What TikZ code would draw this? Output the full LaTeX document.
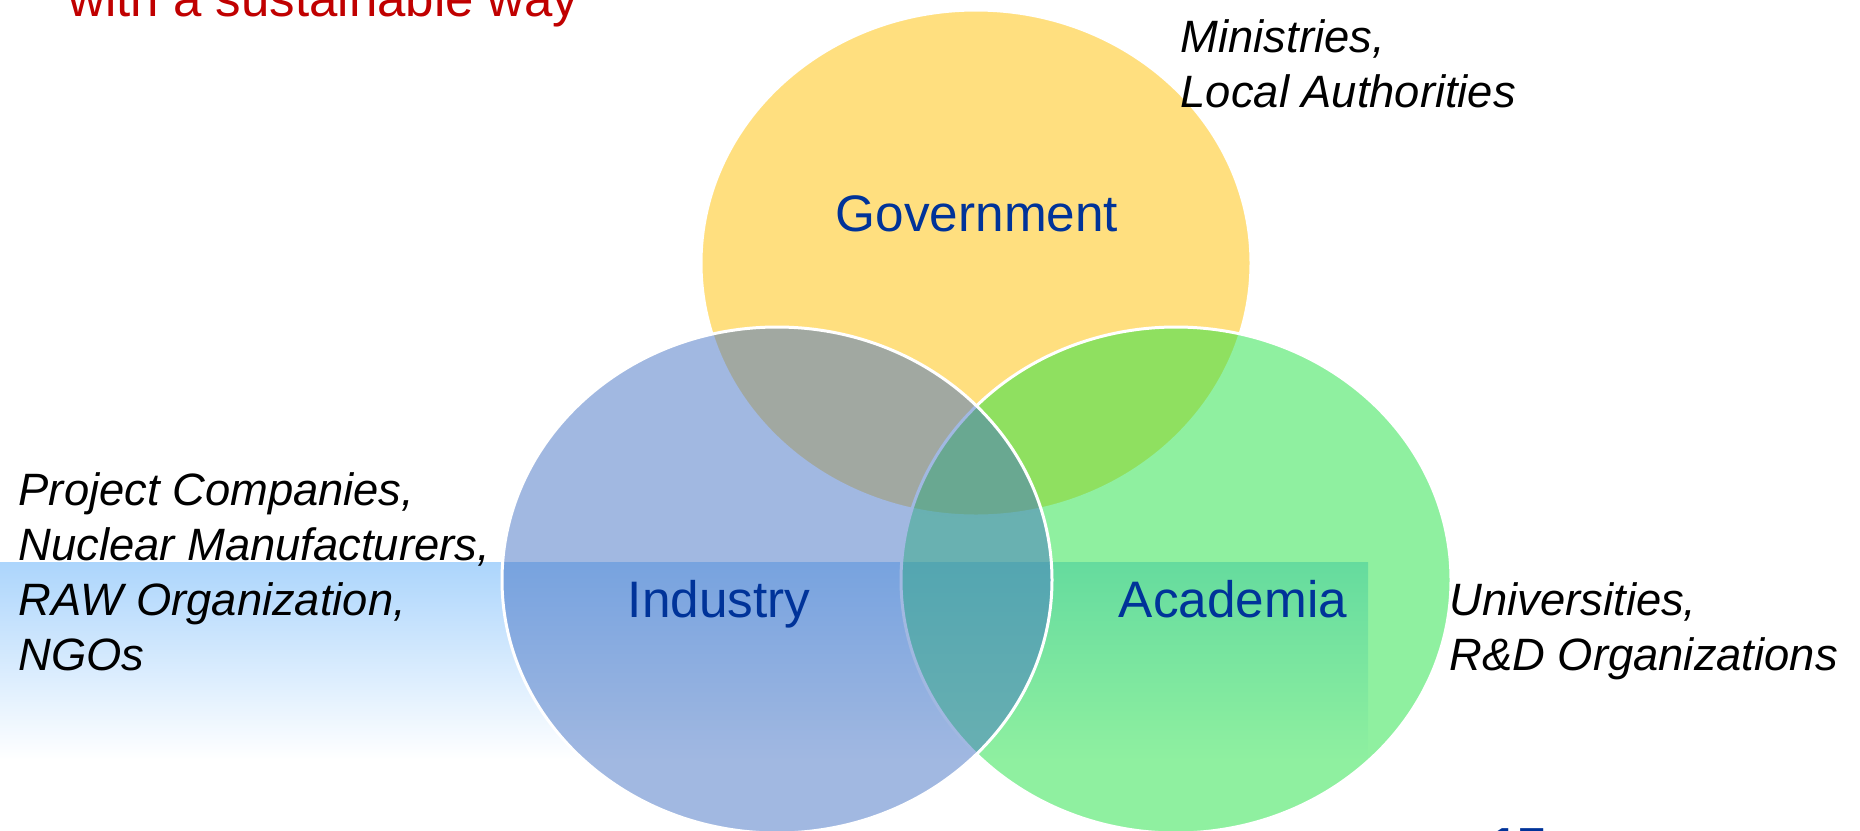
\documentclass[tikz,border=0pt]{standalone}
\usepackage{fontspec}
\setmainfont{Liberation Sans}
\usepackage{xcolor}
\usetikzlibrary{shapes.geometric, positioning}

\definecolor{govyellow}{RGB}{255,192,0}
\definecolor{indblue}{RGB}{68,114,196}
\definecolor{acagreen}{RGB}{32,226,66}
\definecolor{labelblue}{RGB}{0,51,153}
\definecolor{titlered}{RGB}{192,0,0}
\definecolor{bandblue}{RGB}{172,213,252}

\pgfdeclareverticalshading{bandfade}{100bp}{color(0bp)=(white); color(25bp)=(white); color(75bp)=(bandblue); color(100bp)=(bandblue)}

\newcommand{\sectorfont}{\fontsize{14.6pt}{17pt}\selectfont}
\newcommand{\memberfont}{\fontsize{12.9pt}{15.65pt}\selectfont\itshape}

\tikzset{
  circ/.style={ellipse, draw=white, line width=0.3mm, fill opacity=0.5,
    minimum width=55mm, minimum height=50.6mm, inner sep=0pt},
  sector/.style={font=\sectorfont, text=labelblue, anchor=base, inner sep=0pt},
  member/.style={font=\memberfont, align=left, anchor=base west, inner sep=0pt}
}

\begin{document}
\begin{tikzpicture}[x=0.1mm, y=-0.1mm]
\useasboundingbox (0,0) rectangle (1860,830);
\shade[shading=bandfade] (0,562) rectangle (1368,760);
\node[circ, fill=govyellow] (gov) at (976,263) {};
\node[circ, fill=acagreen] (aca) at (1176,580) {};
\node[circ, fill=indblue] (ind) at (777,580) {};
\node[sector] (govlabel) at (977,231) {Government};
\node[sector] (indlabel) at (719,617) {Industry};
\node[sector] (acalabel) at (1233,617) {Academia};
\node[member] (govmembers) at (1180,107) {Ministries,\\Local Authorities};
\node[member] (indmembers) at (18,670) {Project Companies,\\Nuclear Manufacturers,\\RAW Organization,\\NGOs};
\node[member] (acamembers) at (1449,670) {Universities,\\R\&D Organizations};
\node[font=\fontsize{14.5pt}{17pt}\selectfont, text=titlered, anchor=base west, inner sep=0pt] (title) at (68,16) {with a sustainable way};
\node[font=\bfseries\fontsize{14pt}{16pt}\selectfont, text=labelblue, anchor=base west, inner sep=0pt] (page) at (1490,862) {17};
\end{tikzpicture}
\end{document}
